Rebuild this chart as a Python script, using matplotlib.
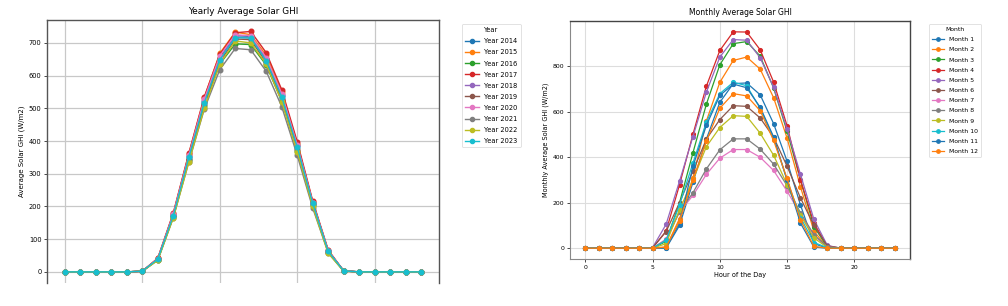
import matplotlib.pyplot as plt
import numpy as np

hours = list(range(24))

# yearly averages per hour (W/m2)
years = [2014, 2015, 2016, 2017, 2018, 2019, 2020, 2021, 2022, 2023]
y2014 = [0, 0, 0, 0, 0, 2, 40, 175, 355, 522, 655, 722, 720, 652, 542, 388, 212, 64, 3, 0, 0, 0, 0, 0]
y2015 = [0, 0, 0, 0, 0, 2, 41, 178, 360, 532, 668, 733, 725, 662, 550, 392, 214, 65, 3, 0, 0, 0, 0, 0]
y2016 = [0, 0, 0, 0, 0, 2, 37, 168, 342, 508, 635, 697, 695, 632, 522, 370, 204, 61, 3, 0, 0, 0, 0, 0]
y2017 = [0, 0, 0, 0, 0, 2, 42, 180, 362, 535, 665, 731, 735, 670, 557, 398, 217, 67, 3, 0, 0, 0, 0, 0]
y2018 = [0, 0, 0, 0, 0, 2, 39, 174, 352, 520, 650, 718, 715, 648, 538, 385, 210, 63, 3, 0, 0, 0, 0, 0]
y2019 = [0, 0, 0, 0, 0, 2, 38, 170, 346, 512, 642, 712, 710, 640, 530, 376, 206, 62, 3, 0, 0, 0, 0, 0]
y2020 = [0, 0, 0, 0, 0, 2, 40, 176, 356, 528, 660, 725, 722, 655, 545, 388, 212, 64, 3, 0, 0, 0, 0, 0]
y2021 = [0, 0, 0, 0, 0, 2, 36, 166, 335, 497, 618, 683, 679, 613, 505, 356, 195, 58, 2, 0, 0, 0, 0, 0]
y2022 = [0, 0, 0, 0, 0, 2, 35, 165, 335, 500, 635, 706, 700, 635, 520, 368, 200, 57, 2, 0, 0, 0, 0, 0]
y2023 = [0, 0, 0, 0, 0, 2, 39, 172, 350, 517, 648, 716, 715, 645, 535, 382, 210, 63, 3, 0, 0, 0, 0, 0]
yearly = [y2014, y2015, y2016, y2017, y2018, y2019, y2020, y2021, y2022, y2023]

# monthly averages per hour (W/m2)
m1 = [0, 0, 0, 0, 0, 0, 0, 100, 290, 480, 642, 724, 727, 675, 548, 383, 190, 20, 0, 0, 0, 0, 0, 0]
m2 = [0, 0, 0, 0, 0, 0, 5, 130, 310, 560, 730, 826, 841, 788, 662, 485, 270, 75, 3, 0, 0, 0, 0, 0]
m3 = [0, 0, 0, 0, 0, 0, 30, 200, 420, 634, 807, 900, 909, 845, 705, 515, 301, 95, 5, 0, 0, 0, 0, 0]
m4 = [0, 0, 0, 0, 0, 2, 75, 279, 501, 713, 870, 952, 951, 873, 731, 539, 300, 110, 10, 0, 0, 0, 0, 0]
m5 = [0, 0, 0, 0, 0, 3, 105, 295, 491, 687, 841, 918, 915, 838, 708, 525, 325, 127, 12, 0, 0, 0, 0, 0]
m6 = [0, 0, 0, 0, 0, 2, 73, 200, 339, 480, 566, 627, 624, 573, 488, 361, 221, 100, 10, 0, 0, 0, 0, 0]
m7 = [0, 0, 0, 0, 0, 1, 40, 160, 232, 325, 396, 434, 434, 400, 342, 251, 150, 55, 5, 0, 0, 0, 0, 0]
m8 = [0, 0, 0, 0, 0, 1, 35, 160, 244, 349, 433, 481, 481, 436, 370, 275, 155, 60, 5, 0, 0, 0, 0, 0]
m9 = [0, 0, 0, 0, 0, 0, 20, 170, 300, 447, 531, 583, 580, 506, 409, 280, 145, 45, 3, 0, 0, 0, 0, 0]
m10 = [0, 0, 0, 0, 0, 0, 35, 190, 375, 555, 680, 730, 715, 615, 485, 300, 135, 25, 2, 0, 0, 0, 0, 0]
m11 = [0, 0, 0, 0, 0, 0, 2, 110, 360, 541, 672, 722, 706, 620, 490, 300, 110, 5, 0, 0, 0, 0, 0, 0]
m12 = [0, 0, 0, 0, 0, 0, 5, 120, 300, 471, 616, 680, 670, 605, 474, 307, 125, 8, 0, 0, 0, 0, 0, 0]
monthly = [m1, m2, m3, m4, m5, m6, m7, m8, m9, m10, m11, m12]

W, H = 1008, 306
fig = plt.figure(figsize=(W / 100, H / 100), dpi=100)

# ---------- left: yearly ----------
ax1 = fig.add_axes([47 / W, (H - 283) / H, 392 / W, 263 / H])
for yr, vals in zip(years, yearly):
    ax1.plot(hours, vals, marker='o', ms=3.3, lw=1.0, label='Year ' + str(yr))
ax1.set_xlim(-1.15, 24.15)
ax1.set_ylim(-34, 770)
ax1.set_xticks([0, 5, 10, 15, 20])
ax1.set_yticks(range(0, 701, 100))
ax1.tick_params(labelbottom=False, bottom=False, labelsize=4.8, length=2, width=0.5, pad=2)
ax1.grid(True, color='#c8c8c8', lw=0.9)
ax1.spines['bottom'].set_visible(False)
for s in ['left', 'top', 'right']:
    ax1.spines[s].set_color('#555555')
    ax1.spines[s].set_linewidth(1.0)
ax1.set_title('Yearly Average Solar GHI', fontsize=6.4, pad=4)
ax1.set_ylabel('Average Solar GHI (W/m2)', fontsize=5.0, labelpad=3)
leg1 = ax1.legend(title='Year', loc='upper left', bbox_to_anchor=(462 / W, 1 - 24 / H),
                  bbox_transform=fig.transFigure, borderaxespad=0, fontsize=4.8,
                  title_fontsize=4.8, markerscale=0.9, handlelength=2.0,
                  labelspacing=0.76, borderpad=0.5)
leg1.get_frame().set_linewidth(0.5)

# ---------- right: monthly ----------
ax2 = fig.add_axes([570 / W, (H - 259) / H, 340 / W, 238 / H])
for i, vals in enumerate(monthly):
    ax2.plot(hours, vals, marker='o', ms=2.7, lw=0.9, label='Month ' + str(i + 1))
ax2.set_xticks([0, 5, 10, 15, 20])
ax2.set_yticks([0, 200, 400, 600, 800])
ax2.tick_params(labelsize=4.4, length=2, width=0.5, pad=2)
ax2.grid(True, color='#dddddd', lw=0.8)
for s in ['top', 'right']:
    ax2.spines[s].set_color('#444444')
    ax2.spines[s].set_linewidth(1.0)
for s in ['left', 'bottom']:
    ax2.spines[s].set_color('#888888')
    ax2.spines[s].set_linewidth(0.8)
ax2.set_title('Monthly Average Solar GHI', fontsize=5.5, pad=4)
ax2.set_xlabel('Hour of the Day', fontsize=4.7, labelpad=2)
ax2.set_ylabel('Monthly Average Solar GHI (W/m2)', fontsize=4.7, labelpad=3)
leg2 = ax2.legend(title='Month', loc='upper left', bbox_to_anchor=(929 / W, 1 - 24 / H),
                  bbox_transform=fig.transFigure, borderaxespad=0, fontsize=4.4,
                  title_fontsize=4.4, markerscale=0.9, handlelength=2.0,
                  labelspacing=0.8, borderpad=0.5)
leg2.get_frame().set_linewidth(0.5)

fig.savefig('out.png', dpi=100)
